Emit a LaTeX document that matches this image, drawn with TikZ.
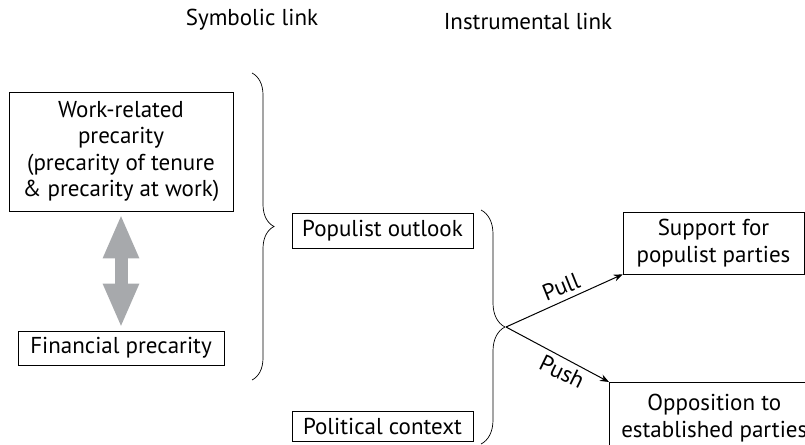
\documentclass[tikz,border=0pt]{standalone}
\usepackage{fontspec}
\setmainfont{PT Sans}
\usetikzlibrary{arrows.meta,decorations.pathreplacing,calc}
\definecolor{arrowgray}{HTML}{A7A9AC}
\begin{document}
\begin{tikzpicture}[x=1pt,y=-1pt,
  box/.style={draw, line width=0.6pt, inner sep=0pt, align=center, font=\fontsize{23}{26.5}\selectfont},
  lbl/.style={font=\fontsize{23}{26}\selectfont},
  bracestyle/.style={draw, line width=0.7pt, decorate},
  conn/.style={line width=1pt, -{Stealth[length=9pt,width=7pt]}}]
\useasboundingbox (0,0) rectangle (805,444);
\node[lbl] (sym) at (252,20) {Symbolic link};
\node[lbl] (ins) at (528,21) {Instrumental link};
\node[box, minimum width=224, minimum height=119] (work) at (121,151.5) {Work-related\\precarity\\(precarity of tenure\\\& precarity at work)};
\node[box, minimum width=206, minimum height=34] (fin) at (121,348) {Financial precarity};
\draw[line width=13pt, arrowgray, {Triangle[width=33pt,length=44pt]}-{Triangle[width=33pt,length=44pt]}, shorten <=3pt, shorten >=3pt] (work.south) -- (fin.north);
\coordinate (lb1) at (252,73);
\coordinate (lb2) at (252,380);
\draw[bracestyle, decoration={brace, amplitude=22pt, aspect=0.5}] (lb1) -- (lb2);
\node[box, minimum width=181, minimum height=35] (pop) at (382.5,230.5) {Populist outlook};
\node[box, minimum width=181, minimum height=30] (pol) at (382.5,426) {Political context};
\coordinate (rb1) at (481,210);
\coordinate (rb2) at (481,444);
\draw[bracestyle, decoration={brace, amplitude=24pt, aspect=0.5}] (rb1) -- (rb2);
\coordinate (tip) at (506,327);
\node[box, minimum width=181, minimum height=62] (sup) at (713.5,243) {Support for\\populist parties};
\node[box, minimum width=210, minimum height=72, anchor=north west] (opp) at (609,382) {Opposition to\\established parties};
\draw[conn] (tip) -- (sup.south west);
\draw[conn] (tip) -- (opp.north west);
\node[lbl, rotate=22] (pull) at (561,287) {Pull};
\node[lbl, rotate=-26] (push) at (562,372) {Push};
\end{tikzpicture}
\end{document}
